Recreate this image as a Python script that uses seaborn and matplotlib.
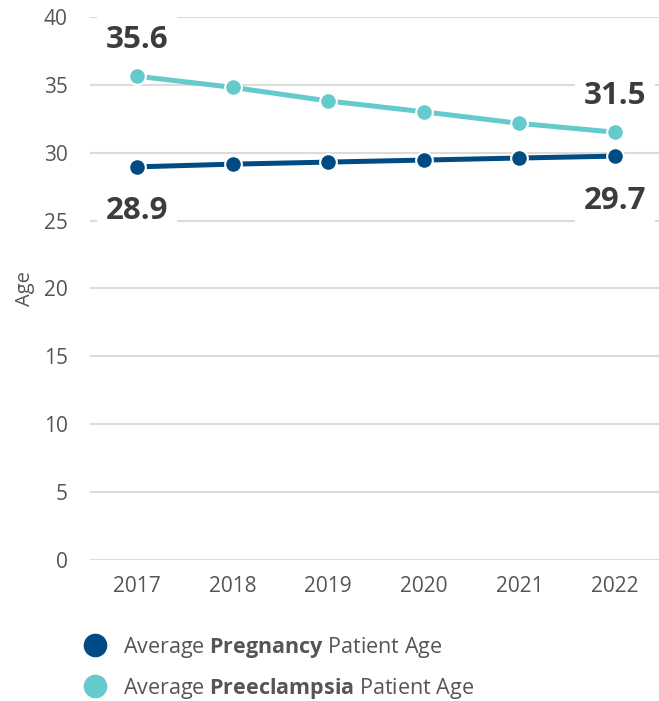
import matplotlib
matplotlib.use("Agg")
import matplotlib.pyplot as plt
from matplotlib.lines import Line2D
import seaborn as sns
import pandas as pd

years = [2017, 2018, 2019, 2020, 2021, 2022]
pregnancy_age = [28.95, 29.15, 29.3, 29.45, 29.6, 29.74]
preeclampsia_age = [35.62, 34.8, 33.8, 33.0, 32.15, 31.5]
series_names = ["Pregnancy", "Preeclampsia"]
label_pregnancy = "Average $\\mathbf{Pregnancy}$ Patient Age"
label_preeclampsia = "Average $\\mathbf{Preeclampsia}$ Patient Age"
y_ticks = [0, 5, 10, 15, 20, 25, 30, 35, 40]

C_DARK = "#004c82"
C_TEAL = "#64cacc"
TXT = "#3c3c3c"
TICK = "#555555"
FONT = "Open Sans"

sns.set_theme(style="white")
plt.rcParams["font.family"] = [FONT, "DejaVu Sans"]
plt.rcParams["mathtext.fontset"] = "custom"
plt.rcParams["mathtext.rm"] = FONT
plt.rcParams["mathtext.bf"] = FONT + ":bold"

df = pd.DataFrame({
    "Year": years * 2,
    "Age": pregnancy_age + preeclampsia_age,
    "Series": [series_names[0]] * len(years) + [series_names[1]] * len(years),
})

fig = plt.figure(figsize=(6.59, 7.01), dpi=100)
ax = fig.add_axes([0.1366, 0.2007, 0.8634, 0.7755])

sns.lineplot(data=df, x="Year", y="Age", hue="Series",
             palette={series_names[0]: C_DARK, series_names[1]: C_TEAL},
             marker="o", markersize=12, markeredgecolor="white", markeredgewidth=1.5,
             linewidth=3.6, ax=ax, legend=False, zorder=3)

ax.set_ylim(0, 40)
ax.set_xlim(2016.508, 2022.46)
ax.set_yticks(y_ticks)
ax.set_xticks(years)
ax.set_xticklabels([str(y) for y in years])
ax.grid(axis="y", color="#dcdcdc", linewidth=1.5, zorder=0)
ax.grid(axis="x", visible=False)
for s in ax.spines.values():
    s.set_visible(False)
ax.tick_params(axis="y", length=0, pad=16, labelsize=15, labelcolor=TICK)
ax.tick_params(axis="x", length=0, pad=11, labelsize=15, labelcolor=TICK)
ax.set_xlabel("")
ax.set_ylabel("Age", fontsize=14.5, color=TICK, labelpad=6)

bbox = dict(boxstyle="square,pad=0.28", facecolor="white", edgecolor="none")
def annotate(x, y, dy):
    ax.annotate(f"{y:.1f}", xy=(x, y), xytext=(0, dy), textcoords="offset points",
                ha="center", va="center", fontsize=22.5, fontweight="bold",
                color=TXT, bbox=bbox, zorder=4)

annotate(years[0], preeclampsia_age[0], 26)
annotate(years[0], pregnancy_age[0], -32)
annotate(years[-1], preeclampsia_age[-1], 26)
annotate(years[-1], pregnancy_age[-1], -32)

handles = [
    Line2D([], [], marker="o", linestyle="none", markersize=16, color=C_DARK),
    Line2D([], [], marker="o", linestyle="none", markersize=16, color=C_TEAL),
]
leg = fig.legend(handles, [label_pregnancy, label_preeclampsia],
                 loc="upper left", bbox_to_anchor=(0.112, 0.11),
                 frameon=False, fontsize=15.5, labelspacing=0.75,
                 handlelength=1.0, handletextpad=0.8, borderpad=0)
for t in leg.get_texts():
    t.set_color(TICK)

fig.savefig("out.png", dpi=100)
